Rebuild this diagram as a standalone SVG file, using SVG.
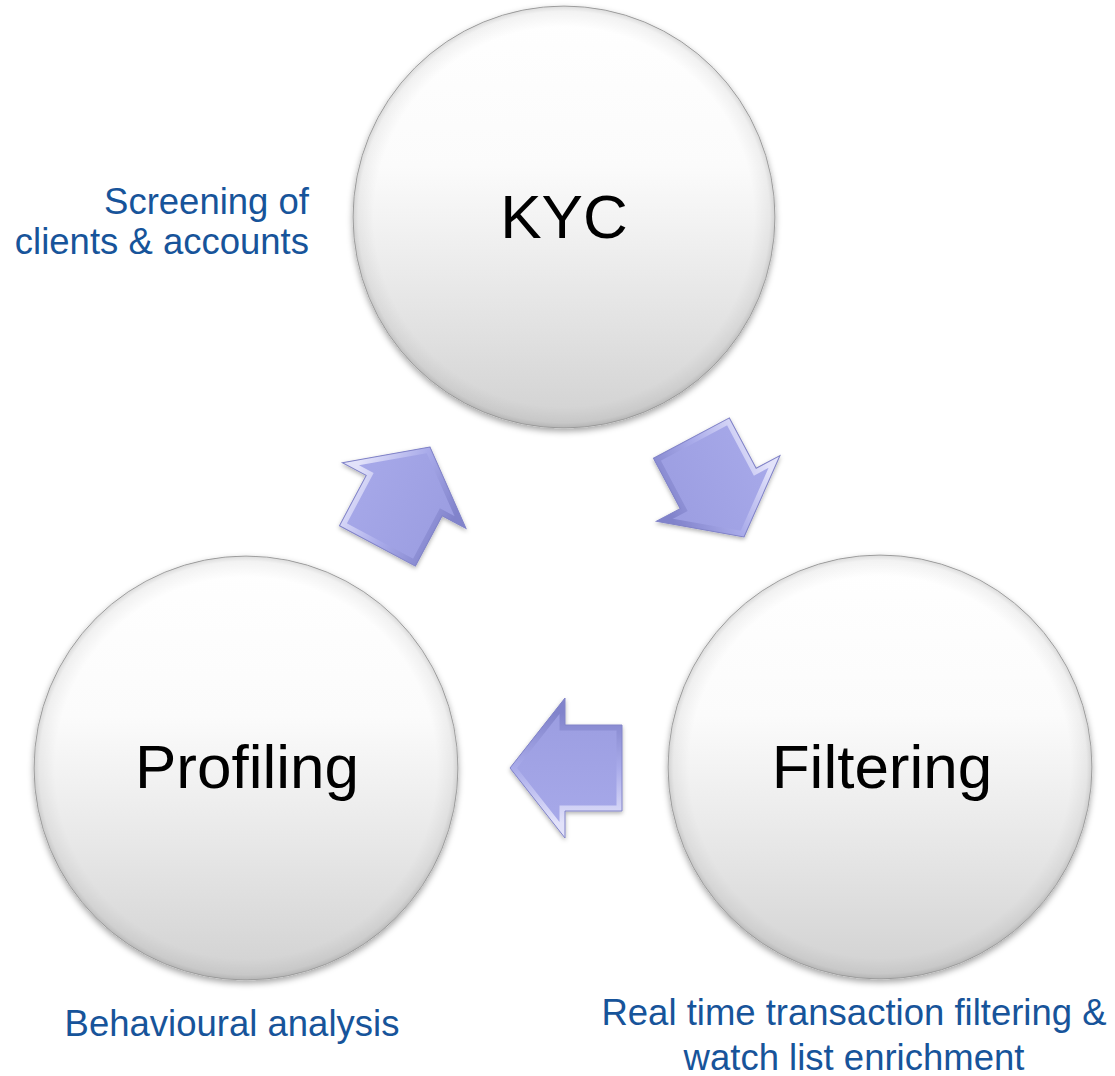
<svg xmlns="http://www.w3.org/2000/svg" width="1115" height="1076" viewBox="0 0 1115 1076">
  <defs>
    <style>
      .ball { fill: url(#ballFill); stroke: #adadad; stroke-width: 1; }
      .rim { fill: url(#ballRim); stroke: none; }
      .title { font-family: "Liberation Sans", Arial, sans-serif; font-size: 62px; fill: #000000; text-anchor: middle; }
      .note { font-family: "Liberation Sans", Arial, sans-serif; font-size: 36.5px; fill: #17549a; }
      .face { fill: url(#arrowFace); }
      .bevel { fill: none; stroke: url(#arrowBevel); stroke-width: 11; stroke-linejoin: miter; }
      .edge { fill: none; stroke: #8284c8; stroke-width: 1; stroke-linejoin: miter; }
    </style>

    <!-- sphere-like disc shading -->
    <linearGradient id="ballFill" x1="0" y1="0" x2="0" y2="1">
      <stop offset="0" stop-color="#ffffff"/>
      <stop offset="0.38" stop-color="#fbfbfb"/>
      <stop offset="0.7" stop-color="#e6e6e6"/>
      <stop offset="1" stop-color="#d1d1d1"/>
    </linearGradient>
    <radialGradient id="ballRim" cx="0.5" cy="0.5" r="0.5">
      <stop offset="0.9" stop-color="#000000" stop-opacity="0"/>
      <stop offset="0.975" stop-color="#000000" stop-opacity="0.05"/>
      <stop offset="1" stop-color="#000000" stop-opacity="0.14"/>
    </radialGradient>
    <filter id="ballShadow" x="-10%" y="-10%" width="120%" height="125%">
      <feDropShadow dx="0" dy="3" stdDeviation="3" flood-color="#000000" flood-opacity="0.35"/>
    </filter>

    <!-- block arrow, tip at the origin, pointing along +x -->
    <path id="arrowShape" d="M0,0 L-55,-70 L-55,-43 L-112,-43 L-112,43 L-55,43 L-55,70 Z"/>
    <clipPath id="arrowClip" clipPathUnits="userSpaceOnUse">
      <use href="#arrowShape"/>
    </clipPath>
    <linearGradient id="arrowFace" gradientUnits="userSpaceOnUse" x1="-60" y1="-70" x2="-60" y2="70">
      <stop offset="0" stop-color="#a8aaea"/>
      <stop offset="1" stop-color="#9a9ce0"/>
    </linearGradient>
    <linearGradient id="arrowBevel" gradientUnits="userSpaceOnUse" x1="-60" y1="-55" x2="-60" y2="55">
      <stop offset="0" stop-color="#e2e2fa"/>
      <stop offset="0.5" stop-color="#a9abea"/>
      <stop offset="1" stop-color="#8183cb"/>
    </linearGradient>
    <filter id="arrowShadow" x="-20%" y="-20%" width="140%" height="140%">
      <feDropShadow dx="0" dy="2" stdDeviation="2" flood-color="#000000" flood-opacity="0.3"/>
    </filter>
    <g id="blockArrow">
      <use href="#arrowShape" class="face"/>
      <g clip-path="url(#arrowClip)">
        <use href="#arrowShape" class="bevel"/>
      </g>
      <use href="#arrowShape" class="edge"/>
    </g>
  </defs>

  <rect width="1115" height="1076" fill="#ffffff"/>

  <!-- cycle arrows -->
  <g id="connectors">
    <g id="arrow-profiling-kyc" filter="url(#arrowShadow)">
      <use href="#blockArrow" transform="translate(430,447) rotate(-62)"/>
    </g>
    <g id="arrow-kyc-filtering" filter="url(#arrowShadow)">
      <use href="#blockArrow" transform="translate(744,537) rotate(62)"/>
    </g>
    <g id="arrow-filtering-profiling" filter="url(#arrowShadow)">
      <use href="#blockArrow" transform="translate(510,768) rotate(180)"/>
    </g>
  </g>

  <g id="node-kyc">
    <g filter="url(#ballShadow)">
      <circle class="ball" cx="564" cy="217" r="211"/>
    </g>
    <circle class="rim" cx="564" cy="217" r="211"/>
    <text class="title" x="564" y="238">KYC</text>
    <text class="note" x="309" y="214" text-anchor="end">Screening of</text>
    <text class="note" x="309" y="254" text-anchor="end">clients &amp; accounts</text>
  </g>

  <g id="node-profiling">
    <g filter="url(#ballShadow)">
      <circle class="ball" cx="246" cy="768" r="212"/>
    </g>
    <circle class="rim" cx="246" cy="768" r="212"/>
    <text class="title" x="247" y="788">Profiling</text>
    <text class="note" x="232" y="1036" text-anchor="middle">Behavioural analysis</text>
  </g>

  <g id="node-filtering">
    <g filter="url(#ballShadow)">
      <circle class="ball" cx="880" cy="767" r="212"/>
    </g>
    <circle class="rim" cx="880" cy="767" r="212"/>
    <text class="title" x="882" y="788">Filtering</text>
    <text class="note" x="854" y="1025" text-anchor="middle">Real time transaction filtering &amp;</text>
    <text class="note" x="854" y="1070" text-anchor="middle">watch list enrichment</text>
  </g>
</svg>
